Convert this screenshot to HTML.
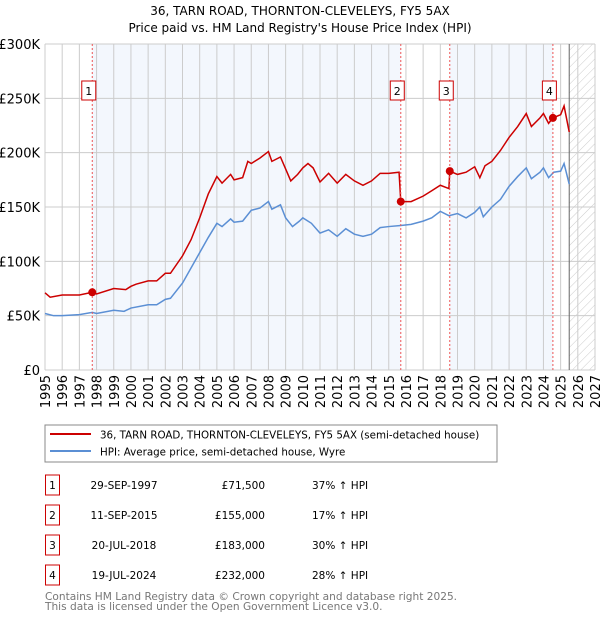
<!DOCTYPE html>
<html><head><meta charset="utf-8"><style>
body{margin:0;background:#fff;font-family:"DejaVu Sans","Liberation Sans",sans-serif;}
svg text{font-family:"DejaVu Sans","Liberation Sans",sans-serif;}
</style></head><body>
<svg id="chart" width="600" height="620" viewBox="0 0 600 620">
<defs><pattern id="hatch" width="6" height="6" patternUnits="userSpaceOnUse" patternTransform="rotate(45)"><line x1="0" y1="0" x2="0" y2="6" stroke="#ccc" stroke-width="1"/></pattern></defs>
<text x="300" y="15" text-anchor="middle" font-size="12">36, TARN ROAD, THORNTON-CLEVELEYS, FY5 5AX</text>
<text x="300" y="32" text-anchor="middle" font-size="12">Price paid vs. HM Land Registry's House Price Index (HPI)</text>
<g id="bands"></g><g id="grid"></g><g id="axes"></g><g id="series"></g><g id="marks"></g>
<rect x="45" y="425" width="452" height="37" fill="#fff" stroke="#888"/>
<line x1="50" y1="434" x2="91" y2="434" stroke="#cc0000" stroke-width="2"/>
<text x="100" y="438.5" font-size="10.3">36, TARN ROAD, THORNTON-CLEVELEYS, FY5 5AX (semi-detached house)</text>
<line x1="50" y1="451" x2="91" y2="451" stroke="#5b8fd4" stroke-width="2"/>
<text x="100" y="455.5" font-size="10.3">HPI: Average price, semi-detached house, Wyre</text>
<g id="table" font-size="10.5"></g>
<text x="45" y="600" font-size="10.6" fill="#777">Contains HM Land Registry data © Crown copyright and database right 2025.</text>
<text x="45" y="610" font-size="10.6" fill="#777">This data is licensed under the Open Government Licence v3.0.</text>
</svg>
<script>
const hpiYears=[1995,1995.5,1996,1997,1997.75,1998,1999,1999.6,2000,2001,2001.5,2002,2002.3,2003,2004,2004.5,2005,2005.3,2005.8,2006,2006.5,2007,2007.5,2008,2008.2,2008.7,2009,2009.4,2009.8,2010,2010.5,2011,2011.5,2012,2012.5,2013,2013.5,2014,2014.5,2015,2015.7,2016.3,2017,2017.5,2018,2018.5,2019,2019.5,2020,2020.3,2020.5,2021,2021.5,2022,2022.5,2023,2023.3,2023.8,2024,2024.3,2024.6,2025,2025.2,2025.5];
const hpiValues=[52,50,50,51,53,52,55,54,57,60,60,65,66,80,108,122,135,132,139,136,137,147,149,155,148,152,140,132,137,140,135,126,129,123,130,125,123,125,131,132,133,134,137,140,146,142,144,140,145,150,141,150,157,169,178,186,176,182,186,177,182,183,190,171];
const priceYears=[1995,1995.3,1996,1997,1997.75,1998,1999,1999.7,2000,2000.3,2001,2001.5,2002,2002.3,2003,2003.5,2004,2004.5,2005,2005.3,2005.8,2006,2006.5,2006.8,2007,2007.5,2008,2008.2,2008.7,2009,2009.3,2009.7,2010,2010.3,2010.6,2011,2011.5,2012,2012.5,2013,2013.5,2014,2014.5,2015,2015.6,2015.7,2016.3,2017,2017.5,2018,2018.5,2018.55,2019,2019.5,2020,2020.3,2020.6,2021,2021.5,2022,2022.5,2023,2023.3,2023.8,2024,2024.3,2024.55,2025,2025.2,2025.5];
const priceValues=[71,67,69,69,71.5,70,75,74,77,79,82,82,89,89,105,120,140,162,178,172,180,175,177,192,190,195,201,192,196,185,174,180,186,190,186,173,181,172,180,174,170,174,181,181,182,155,155,160,165,170,167,183,180,182,187,177,188,192,202,214,224,236,224,232,236,227,232,235,243,219];
const saleYears=[1997.75,2015.7,2018.55,2024.55];
const salePrices=[71.5,155,183,232];
const saleLabels=["1","2","3","4"];
const saleDates=["29-SEP-1997","11-SEP-2015","20-JUL-2018","19-JUL-2024"];
const salePriceText=["£71,500","£155,000","£183,000","£232,000"];
const salePct=["37% ↑ HPI","17% ↑ HPI","30% ↑ HPI","28% ↑ HPI"];
const yTicks=[0,50,100,150,200,250,300];
const yTickLabels=["£0","£50K","£100K","£150K","£200K","£250K","£300K"];
const xTicks=[1995,1996,1997,1998,1999,2000,2001,2002,2003,2004,2005,2006,2007,2008,2009,2010,2011,2012,2013,2014,2015,2016,2017,2018,2019,2020,2021,2022,2023,2024,2025,2026,2027];
const dataEnd=2025.5;
const NS="http://www.w3.org/2000/svg";
const X0=45,X1=595,Y0=370,Y1=44;
const xs=y=>X0+(y-1995)/(2027-1995)*(X1-X0);
const ys=v=>Y0-v/300*(Y0-Y1);
function mk(tag,attrs,parent){const e=document.createElementNS(NS,tag);for(const k in attrs)e.setAttribute(k,attrs[k]);document.getElementById(parent).appendChild(e);return e;}
for(let i=0;i<saleYears.length;i+=2){const a=saleYears[i],b=i+1<saleYears.length?saleYears[i+1]:dataEnd;
const r=mk('rect',{x:xs(a),y:Y1,width:xs(b)-xs(a),height:Y0-Y1,fill:'#eef3fc',opacity:0.7},'bands');

}
const h=mk('rect',{x:xs(dataEnd),y:Y1,width:X1-xs(dataEnd),height:Y0-Y1,fill:'url(#hatch)'},'bands');


yTicks.forEach((t,i)=>{const l=mk('line',{x1:X0,x2:X1,y1:ys(t),y2:ys(t),stroke:'#ccc'},'grid');


const tx=mk('text',{x:X0-5,y:ys(t)+5,'text-anchor':'end','font-size':13},'axes');tx.textContent=yTickLabels[i];

});
xTicks.forEach(t=>{const l=mk('line',{x1:xs(t),x2:xs(t),y1:Y1,y2:Y0,stroke:'#ccc'},'grid');


const tx=mk('text',{x:0,y:0,'font-size':13,transform:`translate(${xs(t)+5},${Y0+5}) rotate(-90)`,'text-anchor':'end'},'axes');tx.textContent=t;

});
const el=mk('line',{x1:xs(dataEnd),x2:xs(dataEnd),y1:Y1,y2:Y0,stroke:'#666'},'grid');


const hp=mk('polyline',{points:hpiYears.map((y,i)=>xs(y)+','+ys(hpiValues[i])).join(' '),fill:'none',stroke:'#5b8fd4','stroke-width':1.5},'series');


const pp=mk('polyline',{points:priceYears.map((y,i)=>xs(y)+','+ys(priceValues[i])).join(' '),fill:'none',stroke:'#cc0000','stroke-width':1.5},'series');


saleYears.forEach((y,i)=>{
const vl=mk('line',{x1:xs(y),x2:xs(y),y1:Y1,y2:Y0,stroke:'#e55','stroke-dasharray':'2,2','stroke-width':1},'marks');


const c=mk('circle',{cx:xs(y),cy:ys(salePrices[i]),r:4,fill:'#cc0000'},'marks');


const b=mk('rect',{x:xs(y)-10.5,y:81,width:14,height:19,fill:'#fff',stroke:'#cc0000'},'marks');


const t=mk('text',{x:xs(y)-3.5,y:95,'text-anchor':'middle','font-size':11},'marks');t.textContent=saleLabels[i];


const ry=475+i*30;
const tb=mk('rect',{x:45.5,y:ry,width:14,height:20,fill:'#fff',stroke:'#cc0000'},'table');


const tn=mk('text',{x:52.5,y:ry+14,'text-anchor':'middle'},'table');tn.textContent=saleLabels[i];


const td=mk('text',{x:124,y:ry+14,'text-anchor':'middle'},'table');td.textContent=saleDates[i];


const tp=mk('text',{x:265,y:ry+14,'text-anchor':'end'},'table');tp.textContent=salePriceText[i];


const tc=mk('text',{x:312,y:ry+14},'table');tc.textContent=salePct[i];


});
</script>
</body></html>
